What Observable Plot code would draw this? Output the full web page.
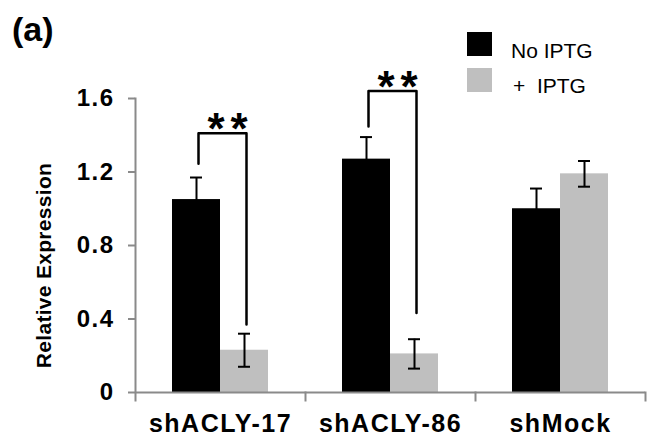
<!DOCTYPE html>
<html>
<head>
<meta charset="utf-8">
<script src="https://cdn.jsdelivr.net/npm/d3@7"></script>
<script src="https://cdn.jsdelivr.net/npm/@observablehq/plot@0.6"></script>
<style>
  html, body { margin: 0; padding: 0; background: white; }
  #wrap { position: relative; width: 649px; height: 440px; font-family: "Liberation Sans", Arial, sans-serif; }
  #wrap svg { position: absolute; left: 0; top: 0; }
  .lbl { position: absolute; line-height: 1; white-space: pre; color: black; }
  .sw { position: absolute; width: 25px; height: 24px; }
  [aria-label="fx-axis tick label"] text { letter-spacing: 1.5px; }
  [aria-label="y-axis tick label"] text { letter-spacing: 1.5px; }
  .sig text { letter-spacing: 6px; }
  .ytitle text { letter-spacing: 0.3px; }
</style>
</head>
<body>
<div id="wrap"></div>
<script>
const categories = ["shACLY-17", "shACLY-86", "shMock"];
const conditions = ["No IPTG", "+ IPTG"];
const noIptg = [1.05, 1.27, 1.00];
const noIptgErr = [0.12, 0.12, 0.11];
const plusIptg = [0.23, 0.21, 1.19];
const plusIptgErr = [0.09, 0.08, 0.07];
const yTicks = [0, 0.4, 0.8, 1.2, 1.6];
const sigCategories = ["shACLY-17", "shACLY-86"];
const sigLeftLow = [1.245, 1.448];
const sigTop = [1.411, 1.641];
const sigRightLow = [0.37, 0.432];
const sigLabel = "**";
const colors = ["#000000", "#bfbfbf"];
const gray = "#8a8a8a";

const data = categories.flatMap((c, i) => [
  {category: c, condition: conditions[0], value: noIptg[i], err: noIptgErr[i]},
  {category: c, condition: conditions[1], value: plusIptg[i], err: plusIptgErr[i]}
]);
const bracketPts = sigCategories.flatMap((c, i) => [
  {category: c, condition: conditions[0], y: sigLeftLow[i]},
  {category: c, condition: conditions[0], y: sigTop[i]},
  {category: c, condition: conditions[1], y: sigTop[i]},
  {category: c, condition: conditions[1], y: sigRightLow[i]}
]);
const sig = sigCategories.map((c, i) => ({category: c, y: sigTop[i], label: sigLabel}));

const chart = Plot.plot({
  width: 649, height: 440,
  marginLeft: 134, marginRight: 3, marginTop: 98, marginBottom: 48,
  style: {fontFamily: "Liberation Sans, Arial, sans-serif", background: "transparent", overflow: "visible", color: "black"},
  fx: {domain: categories, padding: 0, label: null},
  x: {domain: conditions, paddingInner: 0, paddingOuter: 0.763, axis: null},
  y: {domain: [0, 1.6], axis: null},
  color: {domain: conditions, range: colors},
  marks: [
    Plot.barY(data, {fx: "category", x: "condition", y: "value", fill: "condition"}),
    Plot.ruleY([0], {stroke: gray, strokeWidth: 2}),
    Plot.frame({anchor: "left", facetAnchor: "left", stroke: gray, strokeWidth: 2, insetBottom: -8}),
    Plot.frame({anchor: "right", stroke: gray, strokeWidth: 2, insetTop: 294, insetBottom: -8}),
    Plot.ruleX(data, {fx: "category", x: "condition", y1: d => d.value - d.err, y2: d => d.value + d.err, stroke: "black", strokeWidth: 2}),
    Plot.tickY(data, {fx: "category", x: "condition", y: d => d.value + d.err, stroke: "black", strokeWidth: 2, insetLeft: 18, insetRight: 18}),
    Plot.tickY(data, {fx: "category", x: "condition", y: d => d.value - d.err, stroke: "black", strokeWidth: 2, insetLeft: 18, insetRight: 18}),
    Plot.line(bracketPts, {fx: "category", x: "condition", y: "y", z: "category", stroke: "black", strokeWidth: 2.5, dx: 2}),
    Plot.text(sig, {fx: "category", y: "y", text: "label", fontSize: 44, fontWeight: "bold", lineAnchor: "bottom", dy: 11, dx: 10, className: "sig"}),
    Plot.axisY({ticks: yTicks, tickSize: 7, tickPadding: 14, stroke: gray, strokeWidth: 2, fill: "black", fontSize: 24, fontWeight: "bold", label: null, tickFormat: d => d === 0 ? "0" : d3.format(".1f")(d)}),
    Plot.axisFx({anchor: "bottom", label: null, tickSize: 0, tickPadding: 22, fontSize: 25, fontWeight: "bold", fill: "black"}),
    Plot.text(["Relative Expression"], {text: d => d, frameAnchor: "left", facetAnchor: "left", rotate: -90, lineAnchor: "bottom", textAnchor: "middle", dx: -85, dy: 20, fontSize: 21, fontWeight: "bold", className: "ytitle"})
  ]
});

const wrap = document.getElementById("wrap");
wrap.appendChild(chart);

function addLabel(text, left, top, size, weight) {
  const d = document.createElement("div");
  d.className = "lbl";
  d.textContent = text;
  d.style.left = left + "px";
  d.style.top = top + "px";
  d.style.fontSize = size + "px";
  d.style.fontWeight = weight;
  wrap.appendChild(d);
}
function addSwatch(color, left, top) {
  const d = document.createElement("div");
  d.className = "sw";
  d.style.left = left + "px";
  d.style.top = top + "px";
  d.style.background = color;
  wrap.appendChild(d);
}
addLabel("(a)", 12, 12, 34, "bold");
addSwatch(colors[0], 467, 32);
addSwatch(colors[1], 467, 68);
addLabel(conditions[0], 511, 39.5, 21, "normal");
addLabel("+  IPTG", 513, 75, 21, "normal");
</script>
</body>
</html>
